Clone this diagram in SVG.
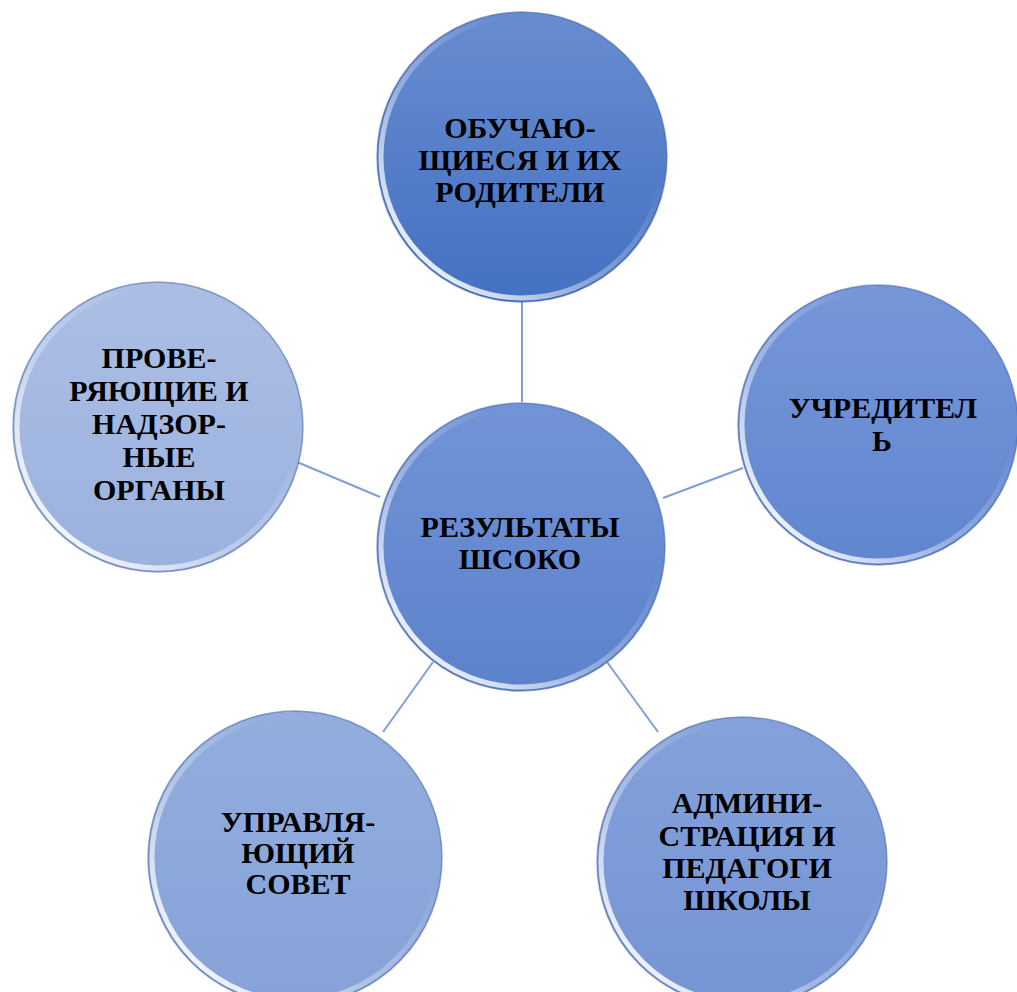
<svg xmlns="http://www.w3.org/2000/svg" width="1017" height="992" viewBox="0 0 1017 992">
<style>
.lbl{font-family:"Liberation Serif","Times New Roman",serif;font-weight:bold;font-size:30px;fill:#000;text-anchor:middle}
.edge{stroke:#7f9fd8;stroke-width:2;fill:none}
.rim{fill:none;stroke:#3a5a9a;stroke-opacity:0.5;stroke-width:1.5}
.hl{fill:none;stroke:url(#hlg);stroke-width:5}
</style>
<defs>
<linearGradient id="gTop" x1="0" y1="0" x2="0" y2="1"><stop offset="0" stop-color="#688cd0"/><stop offset="1" stop-color="#4471c2"/></linearGradient>
<linearGradient id="gCen" x1="0" y1="0" x2="0" y2="1"><stop offset="0" stop-color="#7293d6"/><stop offset="1" stop-color="#5b82cc"/></linearGradient>
<linearGradient id="gRig" x1="0" y1="0" x2="0" y2="1"><stop offset="0" stop-color="#7796da"/><stop offset="1" stop-color="#5f86ce"/></linearGradient>
<linearGradient id="gLef" x1="0" y1="0" x2="0" y2="1"><stop offset="0" stop-color="#abbee4"/><stop offset="1" stop-color="#9bb1de"/></linearGradient>
<linearGradient id="gBL" x1="0" y1="0" x2="0" y2="1"><stop offset="0" stop-color="#93addd"/><stop offset="1" stop-color="#86a2d8"/></linearGradient>
<linearGradient id="gBR" x1="0" y1="0" x2="0" y2="1"><stop offset="0" stop-color="#84a1da"/><stop offset="1" stop-color="#7594d4"/></linearGradient>
<linearGradient id="hlg" x1="0.1" y1="0.9" x2="0.7" y2="0.3"><stop offset="0" stop-color="#ffffff" stop-opacity="0.95"/><stop offset="0.5" stop-color="#ffffff" stop-opacity="0.35"/><stop offset="1" stop-color="#ffffff" stop-opacity="0"/></linearGradient>
</defs>
<rect width="1017" height="992" fill="#ffffff"/>
<g id="connectors">
<line class="edge" x1="522" y1="300" x2="522" y2="402"/>
<line class="edge" x1="297" y1="462" x2="380" y2="497"/>
<line class="edge" x1="663" y1="498" x2="743" y2="468"/>
<line class="edge" x1="433" y1="662" x2="383" y2="732"/>
<line class="edge" x1="607" y1="662" x2="658" y2="732"/>
</g>
<g id="node-top">
<circle cx="522" cy="157" r="145" fill="url(#gTop)"/>
<circle class="hl" cx="522" cy="157" r="141"/>
<circle class="rim" cx="522" cy="157" r="145"/>
<text class="lbl" x="520" y="138">ОБУЧАЮ-</text>
<text class="lbl" x="520" y="170">ЩИЕСЯ И ИХ</text>
<text class="lbl" x="520" y="202">РОДИТЕЛИ</text>
</g>
<g id="node-right">
<circle cx="878" cy="425" r="140" fill="url(#gRig)"/>
<circle class="hl" cx="878" cy="425" r="136"/>
<circle class="rim" cx="878" cy="425" r="140"/>
<text class="lbl" x="883" y="418">УЧРЕДИТЕЛ</text>
<text class="lbl" x="882" y="451">Ь</text>
</g>
<g id="node-left">
<circle cx="158" cy="427" r="145" fill="url(#gLef)"/>
<circle class="hl" cx="158" cy="427" r="141"/>
<circle class="rim" cx="158" cy="427" r="145"/>
<text class="lbl" x="159" y="368">ПРОВЕ-</text>
<text class="lbl" x="159" y="401">РЯЮЩИЕ И</text>
<text class="lbl" x="159" y="434">НАДЗОР-</text>
<text class="lbl" x="159" y="467">НЫЕ</text>
<text class="lbl" x="159" y="500">ОРГАНЫ</text>
</g>
<g id="node-center">
<circle cx="521" cy="547" r="144" fill="url(#gCen)"/>
<circle class="hl" cx="521" cy="547" r="140"/>
<circle class="rim" cx="521" cy="547" r="144"/>
<text class="lbl" x="520" y="537">РЕЗУЛЬТАТЫ</text>
<text class="lbl" x="520" y="569">ШСОКО</text>
</g>
<g id="node-bottom-left">
<circle cx="295" cy="858" r="147" fill="url(#gBL)"/>
<circle class="hl" cx="295" cy="858" r="143"/>
<circle class="rim" cx="295" cy="858" r="147"/>
<text class="lbl" x="298" y="832">УПРАВЛЯ-</text>
<text class="lbl" x="298" y="863">ЮЩИЙ</text>
<text class="lbl" x="298" y="894">СОВЕТ</text>
</g>
<g id="node-bottom-right">
<circle cx="742" cy="862" r="145" fill="url(#gBR)"/>
<circle class="hl" cx="742" cy="862" r="141"/>
<circle class="rim" cx="742" cy="862" r="145"/>
<text class="lbl" x="747" y="813">АДМИНИ-</text>
<text class="lbl" x="747" y="846">СТРАЦИЯ И</text>
<text class="lbl" x="747" y="878">ПЕДАГОГИ</text>
<text class="lbl" x="747" y="910">ШКОЛЫ</text>
</g>
</svg>
